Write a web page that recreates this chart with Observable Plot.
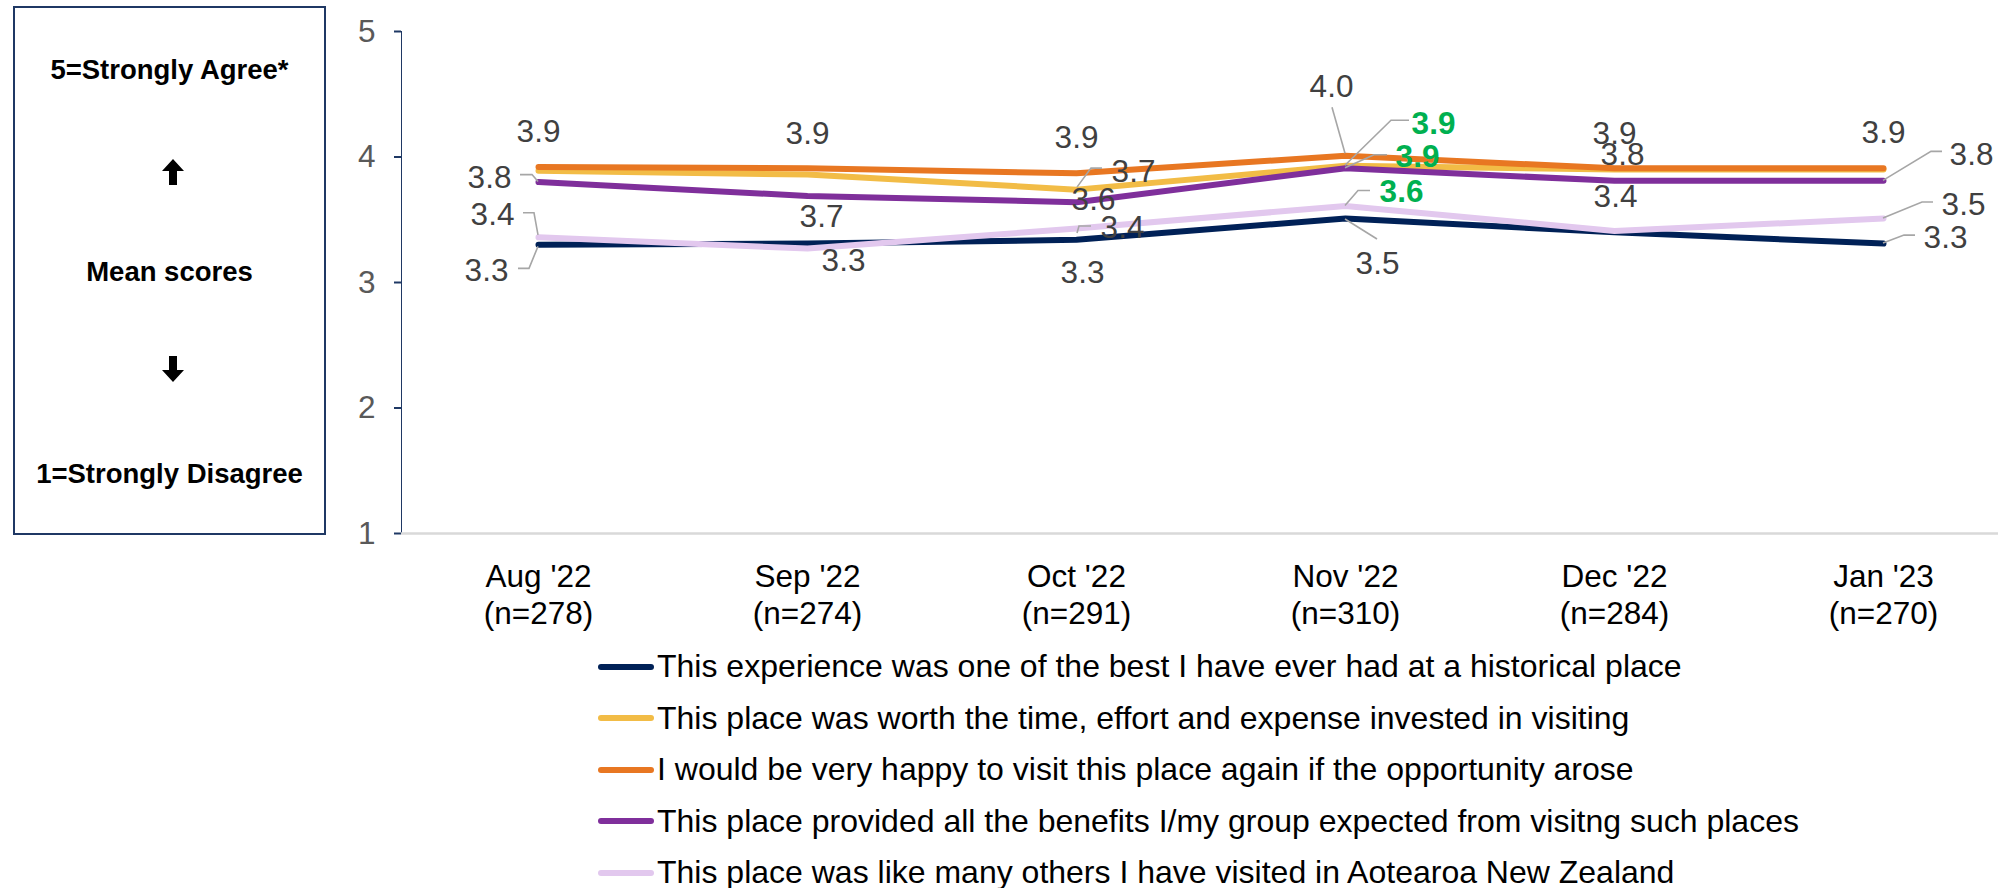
<!DOCTYPE html>
<html>
<head>
<meta charset="utf-8">
<script src="https://cdn.jsdelivr.net/npm/d3@7"></script>
<script src="https://cdn.jsdelivr.net/npm/@observablehq/plot@0.6"></script>
<style>
  html, body { margin: 0; padding: 0; background: #fff; }
  body { width: 1998px; height: 888px; overflow: hidden; position: relative; font-family: "Liberation Sans", Arial, sans-serif; }
  #chart { position: absolute; left: 0; top: 0; }
  #chart svg [aria-label^="y-axis"] text { fill: #595959; font-size: 31.5px; }
  #chart svg [aria-label^="y-axis"] path,
  #chart svg [aria-label^="y-axis"] line { stroke: #1F3864; stroke-width: 2px; }
  #scalebox { position: absolute; left: 13px; top: 6px; width: 309px; height: 525px; border: 2px solid #1F3864; }
  #scalebox .t { position: absolute; left: 0; width: 100%; text-align: center; font-weight: bold; font-size: 27.5px; line-height: 27.5px; color: #000; white-space: nowrap; }
  #scalebox svg { position: absolute; }
  #legend { position: absolute; left: 598px; top: 641px; }
  #legend .row { height: 51.5px; line-height: 51.5px; font-size: 32px; color: #000; white-space: nowrap; display: flex; align-items: center; }
  #legend .sw { width: 56px; height: 6px; border-radius: 3px; margin-right: 3px; flex: none; }
</style>
</head>
<body>
<div id="chart"></div>
<div id="scalebox">
  <div class="t" style="top:48px">5=Strongly Agree*</div>
  <svg style="left:147px;top:151px" width="22" height="26" viewBox="0 0 22 26"><polygon points="11,0 22,12 15,12 15,26 7,26 7,12 0,12" fill="#000"/></svg>
  <div class="t" style="top:250px">Mean scores</div>
  <svg style="left:147px;top:348px" width="22" height="26" viewBox="0 0 22 26"><polygon points="11,26 22,14 15,14 15,0 7,0 7,14 0,14" fill="#000"/></svg>
  <div class="t" style="top:452px">1=Strongly Disagree</div>
</div>
<div id="legend"></div>
<script>
// ---- Data ----
const months = ["Aug '22", "Sep '22", "Oct '22", "Nov '22", "Dec '22", "Jan '23"];
const sampleSizes = ["(n=278)", "(n=274)", "(n=291)", "(n=310)", "(n=284)", "(n=270)"];
const seriesNames = [
  "This experience was one of the best I have ever had at a historical place",
  "This place was worth the time, effort and expense invested in visiting",
  "I would be very happy to visit this place again if the opportunity arose",
  "This place provided all the benefits I/my group expected from visitng such places",
  "This place was like many others I have visited in Aotearoa New Zealand"
];
const best       = [3.30, 3.31, 3.34, 3.51, 3.40, 3.31];
const worth      = [3.89, 3.86, 3.74, 3.93, 3.90, 3.90];
const again      = [3.92, 3.91, 3.87, 4.01, 3.91, 3.91];
const benefits   = [3.80, 3.69, 3.64, 3.91, 3.81, 3.81];
const likeOthers = [3.36, 3.27, 3.43, 3.61, 3.41, 3.51];
const seriesValues = [best, worth, again, benefits, likeOthers];
// months (by index) whose value is flagged as a significant change, per series
const significant = [[], [3], [], [3], [3]];
const yTicks = [1, 2, 3, 4, 5];

// ---- Styling ----
const seriesColors = ["#002157", "#F2BC46", "#E87722", "#7F2F9B", "#E2C8EE"];
const labelColor = "#404040";
const sigColor = "#00B050";
const leaderColor = "#A6A6A6";
// label placement per series / month: [dx, dy, leader points relative to the data point];
// null = label sits exactly under an identical label of another series (drawn once)
const placement = [
  [[-52, 26, [[-20,24],[-9,24],[0,2]]], null, [6, 33], [32, 45, [[32,21],[0,1]]], null, [62, -6, [[32,-8],[21,-8],[0,0]]]],
  [null, null, [57, -18, [[26,-21],[15,-21],[1,-2]]], [88, -42, [[64,-45],[46,-45],[0,0]]], null, null],
  [[0, -35.5], [0, -34.5], [0, -35], [-14, -69, [[-13,-48],[0,-2]]], [0, -34.5], [0, -35]],
  [[-49, -4, [[-18,-7],[-6,-7],[0,0]]], [14, 21], [17, -2], [72, -11, [[42,-13],[29,-13],[0,0]]], [8, -26], [88, -26, [[59,-29],[48,-29],[0,0]]]],
  [[-46, -22, [[-15,-24],[-4,-24],[0,-2]]], [36, 12], [46, -1, [[15,-2],[3,-2],[1,5]]], [56, -14, [[25,-15],[13,-15],[0,0]]], [1, -34], [80, -14, [[50,-16],[39,-16],[0,0]]]]
];

// ---- Build rows ----
const rows = [];
seriesValues.forEach((vals, s) => vals.forEach((v, i) => rows.push({
  series: seriesNames[s], s, i, month: months[i], value: v,
  sig: significant[s].includes(i)
})));

const fmt = d3.format(".1f");
const ns = "http://www.w3.org/2000/svg";

function leaderMark(index, scales) {
  const g = document.createElementNS(ns, "g");
  g.setAttribute("aria-label", "leader lines");
  for (const r of rows) {
    const p = placement[r.s][r.i];
    if (!p || !p[2]) continue;
    const px = scales.x(r.month), py = scales.y(r.value);
    const path = document.createElementNS(ns, "path");
    path.setAttribute("d", "M" + p[2].map(([a, b]) => `${px + a},${py + b}`).join("L"));
    path.setAttribute("fill", "none");
    path.setAttribute("stroke", leaderColor);
    path.setAttribute("stroke-width", "1.6");
    g.appendChild(path);
  }
  return g;
}

const labelMarks = rows.filter(r => placement[r.s][r.i]).map(r => {
  const p = placement[r.s][r.i];
  return Plot.text([r], {
    x: "month", y: "value", text: d => fmt(d.value),
    dx: p[0], dy: p[1],
    fill: r.sig ? sigColor : labelColor,
    fontWeight: r.sig ? "bold" : "normal",
    fontSize: 31.5
  });
});

const chart = Plot.plot({
  width: 1998,
  height: 641,
  marginLeft: 401,
  marginRight: 0,
  marginTop: 31,
  marginBottom: 108,
  style: { fontFamily: "'Liberation Sans', Arial, sans-serif", fontSize: "31.5px", color: "#1F3864", background: "white" },
  x: { type: "point", domain: months, range: [536, 1884], padding: 0, axis: null },
  y: { domain: [1, 5], ticks: yTicks, tickSize: 7, tickPadding: 19, line: true, label: null, tickFormat: d3.format("d") },
  color: { domain: seriesNames, range: seriesColors },
  marks: [
    Plot.ruleY([1], { stroke: "#D9D9D9", strokeWidth: 2.5 }),
    Plot.line(rows, { x: "month", y: "value", z: "series", stroke: "series", strokeWidth: 6, strokeLinecap: "round", strokeLinejoin: "round" }),
    leaderMark,
    ...labelMarks,
    Plot.text(months, {
      x: d => d, text: (d, i) => d + "\n" + sampleSizes[i],
      frameAnchor: "bottom", lineAnchor: "top", dy: 27, lineHeight: 1.17,
      fill: "#000", fontSize: 31.5
    })
  ]
});
document.getElementById("chart").appendChild(chart);

// ---- Legend ----
const legend = document.getElementById("legend");
seriesNames.forEach((name, s) => {
  const row = document.createElement("div");
  row.className = "row";
  const sw = document.createElement("span");
  sw.className = "sw";
  sw.style.background = seriesColors[s];
  const tx = document.createElement("span");
  tx.textContent = name;
  row.appendChild(sw);
  row.appendChild(tx);
  legend.appendChild(row);
});
</script>
</body>
</html>
